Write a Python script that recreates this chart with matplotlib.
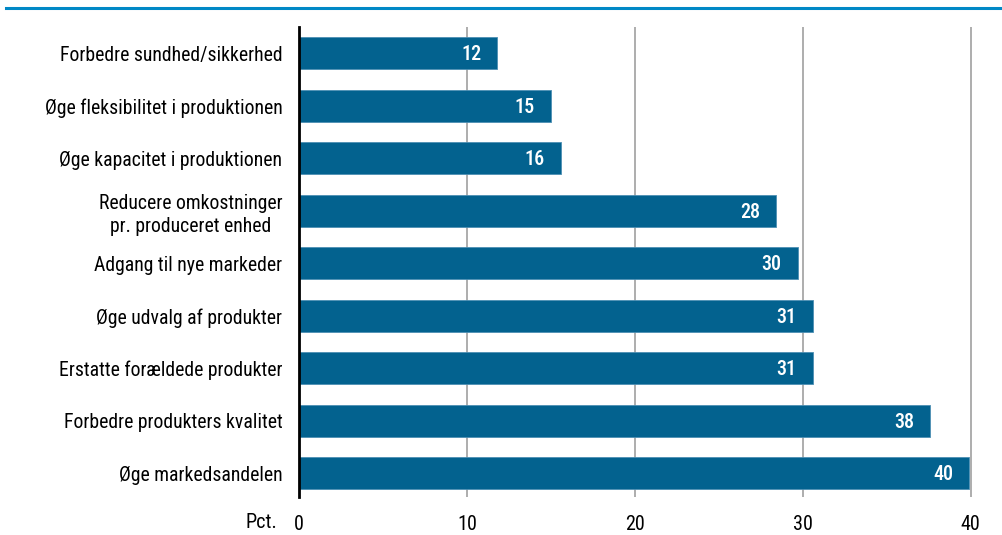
import matplotlib
matplotlib.use("Agg")
import matplotlib.pyplot as plt
from matplotlib.lines import Line2D

plt.rcParams['font.family'] = ['Roboto Condensed', 'Archivo Narrow', 'DejaVu Sans']

categories = [
    "Forbedre sundhed/sikkerhed",
    "Øge fleksibilitet i produktionen",
    "Øge kapacitet i produktionen",
    "Reducere omkostninger\npr. produceret enhed",
    "Adgang til nye markeder",
    "Øge udvalg af produkter",
    "Erstatte forældede produkter",
    "Forbedre produkters kvalitet",
    "Øge markedsandelen",
]
values = [11.8, 15.0, 15.6, 28.4, 29.7, 30.6, 30.6, 37.6, 39.9]
xticks = [0, 10, 20, 30, 40]
xlabel_unit = "Pct."

bar_color = "#03628F"
fig = plt.figure(figsize=(10.03, 5.35), dpi=100)
ax = fig.add_axes([299 / 1003, 1 - 497 / 535, (979 - 299) / 1003, (497 - 27) / 535])

pos = list(range(len(categories)))
ax.barh(pos, values, height=0.61, color=bar_color, edgecolor="#4d8fb3",
        linewidth=0.6, zorder=3)
for p, v in zip(pos, values):
    ax.text(v - 0.95, p + 0.03, f"{v:.0f}", ha="right", va="center", color="white",
            fontsize=14.5, fontweight="medium", zorder=4)

ax.set_ylim(len(categories) - 0.55, -0.5)
ax.set_xlim(0, 40.5)
ax.set_yticks(pos)
ax.set_yticklabels(categories, fontsize=14.2, linespacing=1.3, multialignment="center")
ax.set_xticks(xticks)
ax.set_xticklabels([str(t) for t in xticks], fontsize=14.5)
ax.tick_params(axis="y", length=0, pad=12)
ax.tick_params(axis="x", length=0, pad=13)
ax.xaxis.grid(True, color="#a0a0a0", linewidth=1.2, zorder=1)
for s in ["top", "right", "bottom"]:
    ax.spines[s].set_visible(False)
ax.spines["left"].set_color("black")
ax.spines["left"].set_linewidth(2)
ax.spines["left"].set_zorder(5)

fig.text(277 / 1003, 1 - 523 / 535, xlabel_unit, ha="right", va="center", fontsize=14.5)
fig.add_artist(Line2D([6 / 1003, 1], [1 - 7.5 / 535] * 2, color="#0088C6", linewidth=2.2))

fig.savefig("out.png", dpi=100)
